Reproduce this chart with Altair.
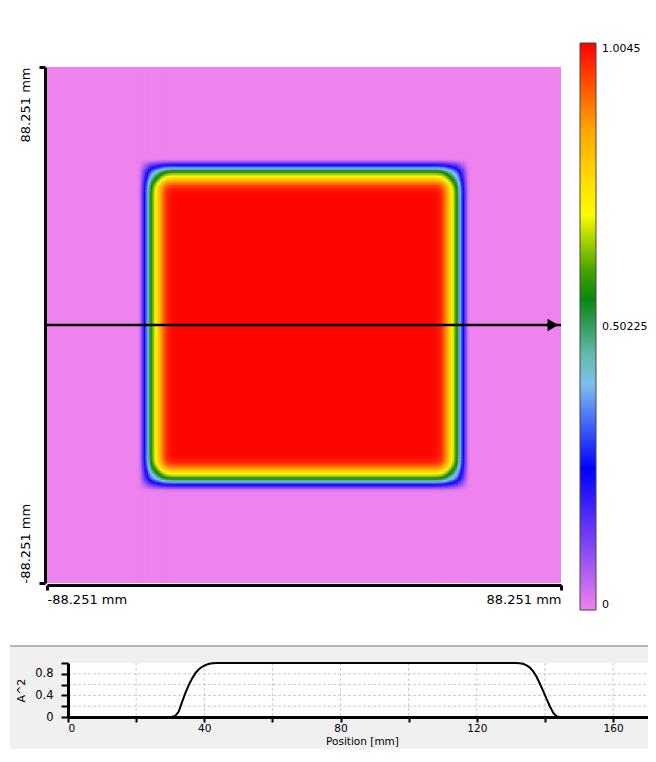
import altair as alt
import pandas as pd

# ---------------- data ----------------
HALF = 88.251            # half width of the field of view [mm]
CMAX = 1.0045            # colour bar maximum
OUTSIDE = 0.0            # value outside the square
PLATEAU = 1.0            # value inside the square

edge_d = [31.0, 31.5, 32.0, 32.5, 33.0, 33.5, 34.0, 34.5, 35.0, 35.5, 36.0, 36.5, 37.0,
          37.5, 38.0, 38.5, 39.0, 39.5, 40.0, 40.5, 41.0, 41.5, 42.0, 42.5, 43.0, 43.5]
edge_v = [0.00, 0.01, 0.04, 0.10, 0.17, 0.24, 0.31, 0.38, 0.46, 0.53, 0.59, 0.64, 0.68,
          0.72, 0.76, 0.80, 0.84, 0.88, 0.91, 0.94, 0.96, 0.975, 0.985, 0.99, 0.995, 1.0]

# colour map stops (fraction of max) and colours
cmap_frac = [0.0, 0.25, 0.41, 0.56, 0.70, 0.85, 1.0]
cmap_col = ["#ee82ee", "#0000ff", "#87ceeb", "#008000", "#ffff00", "#ffa500", "#ff0000"]
legend_vals = [0, 0.50225, 1.0045]

# arrow (profile cut) along y = 0
arrow_x0 = [-HALF]
arrow_x1 = [HALF]
arrow_y = [0.0]

# line profile (bottom panel)
prof_pos = [0, 29.0, 30.5, 31.5, 32.5, 33.5, 34.5, 35.5, 36.5, 37.5, 38.5, 39.5, 40.5, 41.5,
            42.5, 43.5, 131.5, 132.5, 133.5, 134.5, 135.5, 136.5, 137.5, 138.5, 139.5,
            140.5, 141.5, 142.5, 143.5, 144.5, 172.6]
prof_amp = [0, 0.0, 0.005, 0.02, 0.10, 0.28, 0.45, 0.60, 0.72, 0.82, 0.89, 0.935, 0.965, 0.985,
            0.995, 1.0, 1.0, 0.995, 0.985, 0.96, 0.92, 0.85, 0.75, 0.62, 0.48,
            0.33, 0.19, 0.07, 0.01, 0.0, 0.0]
pos_max = 172.6
x_ticks = [0, 20, 40, 60, 80, 100, 120, 140, 160]
y_ticks = [0, 0.2, 0.4, 0.6, 0.8, 1.0]
x_grid = [20, 40, 60, 80, 100, 120, 140, 160]
y_grid = [0.2, 0.4, 0.6, 0.8]

# ---------------- build heat table ----------------
cells = [(-HALF, edge_d[0] - 0.25 - HALF, OUTSIDE)]
for d, v in zip(edge_d, edge_v):
    cells.append((d - 0.25 - HALF, d + 0.25 - HALF, v))
inner = edge_d[-1] + 0.25 - HALF
cells.append((inner, -inner, PLATEAU))
for d, v in zip(reversed(edge_d), reversed(edge_v)):
    cells.append((HALF - d - 0.25, HALF - d + 0.25, v))
cells.append((HALF - edge_d[0] + 0.25, HALF, OUTSIDE))

rows = []
for (x0, x1, vx) in cells:
    for (y0, y1, vy) in cells:
        rows.append({"x0": x0, "x1": x1, "y0": y0, "y1": y1, "v": vx * vy})
heat = pd.DataFrame(rows)
heat_bg = pd.DataFrame({"x0": [-HALF], "x1": [HALF], "y0": [-HALF], "y1": [HALF], "v": [OUTSIDE]})

arrow = pd.DataFrame({"x0": arrow_x0, "x1": arrow_x1, "y": arrow_y})
prof = pd.DataFrame({"pos": prof_pos, "amp": prof_amp})

# ---------------- top chart ----------------
TOP_W, TOP_H = 493, 516
xs_top = alt.Scale(domain=[-HALF, HALF], range=[-21, TOP_W], nice=False, zero=False)
ys_top = alt.Scale(domain=[-HALF, HALF], nice=False, zero=False)
cdomain = [f * CMAX for f in cmap_frac]
cscale = alt.Scale(domain=cdomain, range=cmap_col, interpolate="rgb")

x_axis_top = alt.Axis(values=[-HALF, HALF], labelExpr="datum.value + ' mm'", labelFlush=True,
                      domainColor="black", domainWidth=3, tickColor="black", tickWidth=3,
                      tickSize=5, labelPadding=3, offset=2, grid=False, title=None,
                      labelFontSize=13, labelColor="black")
y_axis_top = alt.Axis(values=[-HALF, HALF], labelExpr="datum.value + ' mm'", labelAngle=270,
                      labelAlign={"condition": {"test": "datum.value > 0", "value": "right"},
                                  "value": "left"},
                      labelBaseline="bottom",
                      domainColor="black", domainWidth=3, tickColor="black", tickWidth=3,
                      tickSize=6, labelPadding=7, offset=23, grid=False, title=None,
                      labelFontSize=13, labelColor="black")

color_enc = alt.Color("v:Q", scale=cscale,
                      legend=alt.Legend(type="gradient", orient="none", legendX=512, legendY=-24,
                                        direction="vertical", gradientLength=567,
                                        gradientThickness=16, values=legend_vals,
                                        format=".6~g", labelOffset=6, labelFontSize=11,
                                        labelColor="black", title=None, padding=0,
                                        gradientStrokeColor="#444", gradientStrokeWidth=1))


def heat_chart(df):
    return alt.Chart(df).mark_rect().encode(
        x=alt.X("x0:Q", scale=xs_top, axis=x_axis_top),
        x2="x1:Q",
        y=alt.Y("y0:Q", scale=ys_top, axis=y_axis_top),
        y2="y1:Q",
        color=color_enc,
    )


arrow_line = alt.Chart(arrow).mark_rule(color="black", strokeWidth=2.5).encode(
    x=alt.X("x0:Q", scale=xs_top, axis=x_axis_top),
    x2="x1:Q",
    y=alt.Y("y:Q", scale=ys_top, axis=y_axis_top),
)
arrow_head = alt.Chart(arrow).mark_point(shape="triangle-right", filled=True, color="black",
                                         opacity=1, size=160, xOffset=-8).encode(
    x=alt.X("x1:Q", scale=xs_top, axis=x_axis_top),
    y=alt.Y("y:Q", scale=ys_top, axis=y_axis_top),
)

# background field first, cells drawn twice to hide anti-aliasing seams
top = alt.layer(heat_chart(heat_bg), heat_chart(heat), heat_chart(heat),
                arrow_line, arrow_head).properties(width=TOP_W, height=TOP_H)

# ---------------- bottom chart ----------------
BOT_W, BOT_H = 588, 54
xs_bot = alt.Scale(domain=[0, pos_max], nice=False, zero=False)
ys_bot = alt.Scale(domain=[0, 1.0], nice=False)

x_axis_bot = alt.Axis(values=x_ticks, labelExpr="datum.value % 40 == 0 ? datum.label : ''",
                      domainColor="black", domainWidth=3, tickColor="black", tickWidth=2,
                      tickSize=5, labelPadding=1, grid=False, title="Position [mm]",
                      titleFontSize=10.5, titleFontWeight="normal", titleColor="black",
                      titlePadding=2.5, labelFontSize=10.5, labelColor="black", zindex=1)
y_axis_bot = alt.Axis(values=y_ticks, format=".1~f",
                      labelExpr="indexof([0, 0.4, 0.8], datum.value) >= 0 ? datum.label : ''",
                      domainColor="black", domainWidth=3, tickColor="black", tickWidth=2,
                      tickSize=7, labelPadding=8, grid=False, title="A^2",
                      titleFontSize=11, titleFontWeight="normal", titleColor="black",
                      titlePadding=8, labelFontSize=11.5, labelColor="black", zindex=1)

one = pd.DataFrame({"k": [0]})
panel = alt.Chart(one).mark_rect(color="#f0f0f0").encode(
    x=alt.value(-58), x2=alt.value(BOT_W), y=alt.value(-17), y2=alt.value(99))
sep = alt.Chart(one).mark_rule(color="#a0a0a0", strokeWidth=1.5).encode(
    x=alt.value(-58), x2=alt.value(BOT_W), y=alt.value(-17))
plot_bg = alt.Chart(one).mark_rect(color="white").encode(
    x=alt.value(0), x2=alt.value(BOT_W), y=alt.value(0), y2=alt.value(BOT_H))
gx = alt.Chart(pd.DataFrame({"g": x_grid})).mark_rule(
    color="#cccccc", strokeDash=[3, 2], strokeWidth=1).encode(
    x=alt.X("g:Q", scale=xs_bot, axis=x_axis_bot), y=alt.value(0), y2=alt.value(BOT_H))
gy = alt.Chart(pd.DataFrame({"g": y_grid})).mark_rule(
    color="#cccccc", strokeDash=[3, 2], strokeWidth=1).encode(
    y=alt.Y("g:Q", scale=ys_bot, axis=y_axis_bot), x=alt.value(0), x2=alt.value(BOT_W))
line = alt.Chart(prof).mark_line(color="black", strokeWidth=2).encode(
    x=alt.X("pos:Q", scale=xs_bot, axis=x_axis_bot),
    y=alt.Y("amp:Q", scale=ys_bot, axis=y_axis_bot),
)

bottom = alt.layer(panel, sep, plot_bg, gx, gy, line).properties(width=BOT_W, height=BOT_H)

# fixed-size canvas (content origin placed by the padding); keeps the page inside the window
chart = alt.vconcat(top, bottom, spacing=39).properties(
    autosize=alt.AutoSizeParams(type="none"),
    padding={"left": 60, "top": 59, "right": 580, "bottom": 682},
).configure(font="DejaVu Sans").configure_view(stroke=None)

chart.save("out.html", embed_options={"renderer": "svg", "actions": False})
